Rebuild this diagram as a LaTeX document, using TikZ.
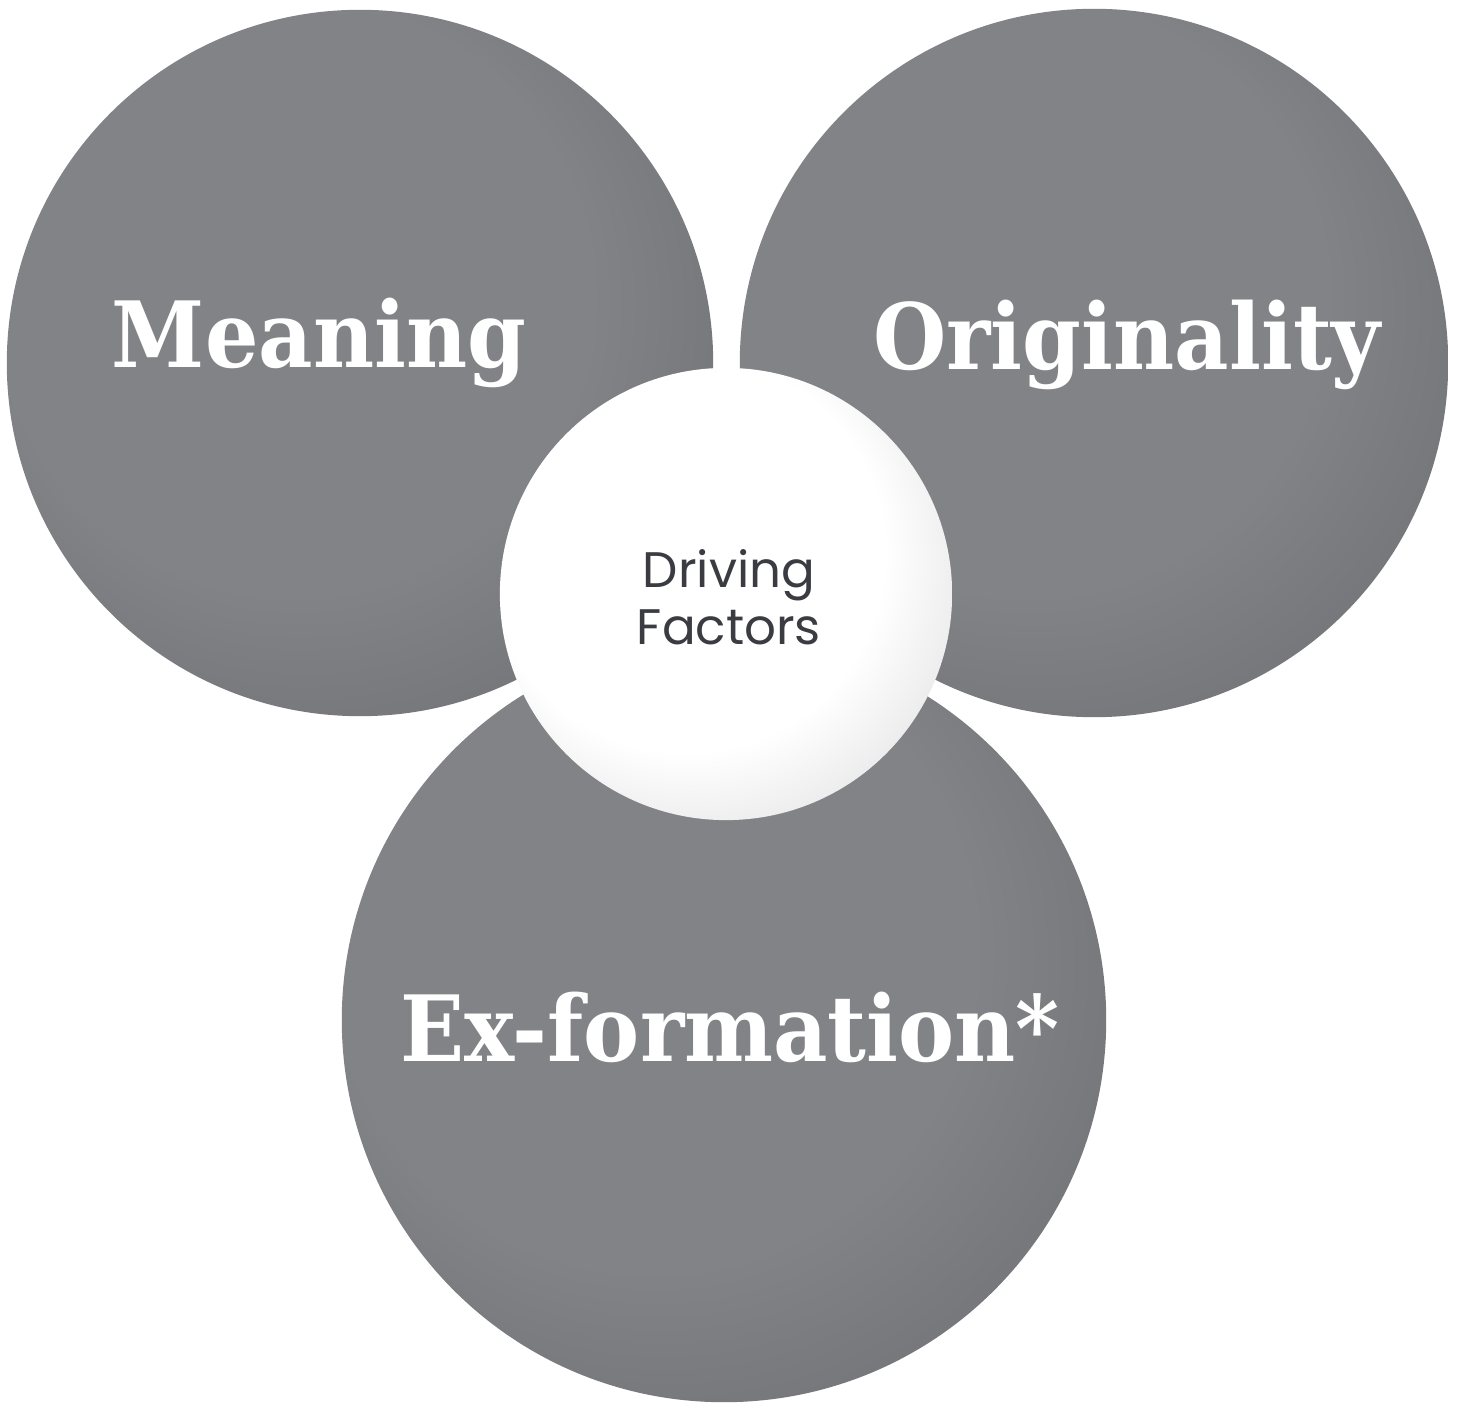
\documentclass[tikz,border=0pt]{standalone}
\usepackage{fontspec}
\usetikzlibrary{positioning}
\newfontfamily\headfont[FakeStretch=0.92]{DejaVu Serif}
\newfontfamily\capfont{Poppins}
\definecolor{blobgray}{HTML}{828387}
\definecolor{blobdark}{HTML}{6E6F73}
\definecolor{hubwhite}{HTML}{FFFFFF}
\definecolor{hubshade}{HTML}{DDDDDF}
\definecolor{hubink}{HTML}{3A3C42}
% flat centre, darker rim towards the lower right
\pgfdeclareradialshading{blobshade}{\pgfpoint{-8bp}{8bp}}{color(0bp)=(blobgray); color(21bp)=(blobgray); color(36bp)=(blobdark); color(50bp)=(blobdark)}
\pgfdeclareradialshading{hubshade}{\pgfpoint{-8bp}{8bp}}{color(0bp)=(hubwhite); color(22bp)=(hubwhite); color(36bp)=(hubshade); color(50bp)=(hubshade)}
\tikzset{
  blob/.style={circle, inner sep=0pt, shading=blobshade},
  hub/.style={circle, inner sep=0pt, shading=hubshade},
  headtxt/.style={anchor=base, text=white, font=\headfont\bfseries\fontsize{26pt}{28pt}\selectfont},
  hubtxt/.style={align=center, text=hubink, font=\capfont\fontsize{14.2pt}{16.2pt}\selectfont},
}
\begin{document}
\begin{tikzpicture}[x=0.01cm, y=-0.01cm]
  \useasboundingbox (0,0) rectangle (1457,1404);
  % three outer circles
  \node[blob, minimum size=7.06cm] (meaning) at (360,363) {};
  \node[blob, minimum size=7.08cm] (originality) at (1094,363) {};
  \node[blob, minimum size=7.64cm] (exformation) at (724,1020) {};
  % hub on top
  \node[hub, minimum size=4.52cm] (hub) at (726,594) {};
  % labels
  \node[headtxt] (meaninglbl) at (319,368) {Meaning};
  \node[headtxt] (originalitylbl) at (1127,370) {Originality};
  \node[headtxt] (exformationlbl) at (730,1062) {Ex-formation*};
  \node[hubtxt] (hublbl) at (729,597) {Driving\\Factors};
\end{tikzpicture}
\end{document}
